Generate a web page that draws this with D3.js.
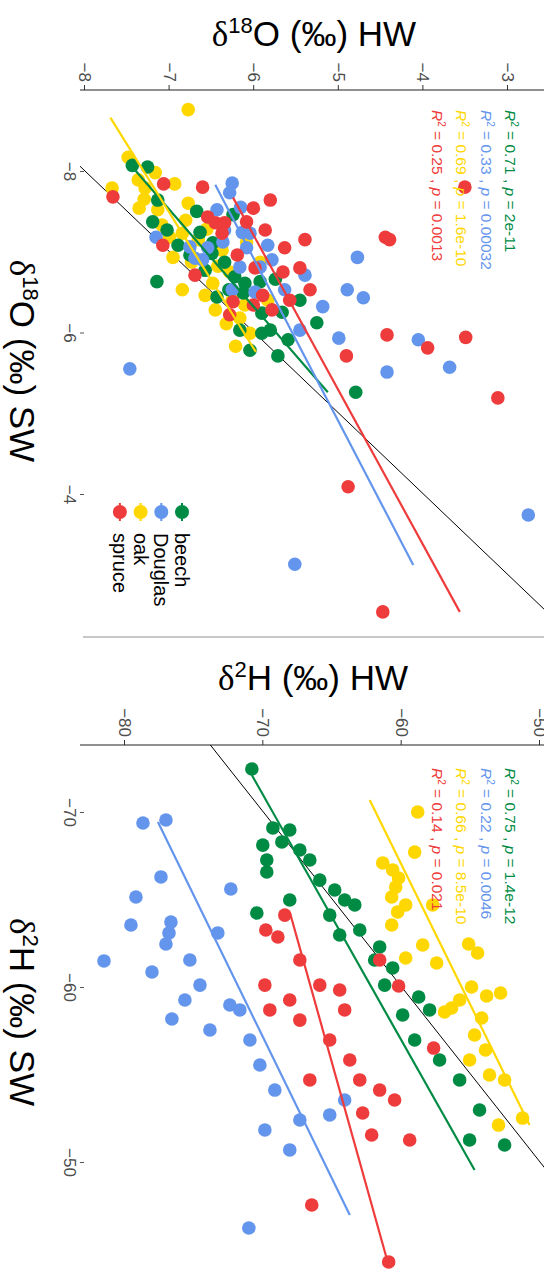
<!DOCTYPE html>
<html><head><meta charset="utf-8">
<script src="https://cdn.jsdelivr.net/npm/d3@7"></script>
<style>body{margin:0;background:#fff}svg{display:block}</style>
</head><body>
<svg id="chart" width="544" height="1279"></svg>
<script>
// Species, colours and legend order
const species = ["beech", "Douglas", "oak", "spruce"];
const speciesColors = ["#008B45", "#6495ED", "#FFD700", "#EE3B3B"];

// δ18O: [source water SW, heartwood HW] per tree (‰)
const o18Beech = [[-8.05,-7.26],[-7.64,-7.14],[-7.37,-7.20],[-7.50,-6.68],[-7.27,-7.03],[-7.08,-6.90],[-6.63,-7.15],[-7.11,-6.49],[-6.98,-6.50],[-6.77,-6.58],[-6.69,-6.23],[-6.61,-6.11],[-6.63,-5.93],[-6.66,-5.75],[-6.44,-6.44],[-6.49,-6.13],[-6.24,-5.91],[-6.25,-5.67],[-8.07,-7.44],[-6.03,-6.17],[-5.99,-5.91],[-5.78,-6.05],[-5.71,-5.72],[-6.12,-5.26],[-5.26,-4.80],[-6.87,-6.35],[-6.96,-6.76],[-6.53,-6.30],[-6.03,-5.81],[-6.40,-5.46],[-5.91,-5.60],[-7.46,-6.25],[-7.24,-6.64]];
const o18Douglas = [[-7.85,-6.26],[-7.73,-6.29],[-7.52,-6.44],[-7.55,-6.16],[-7.18,-7.16],[-7.06,-6.76],[-7.05,-6.55],[-7.12,-6.37],[-7.24,-6.14],[-7.23,-6.05],[-7.05,-6.09],[-6.92,-6.70],[-6.90,-6.61],[-6.81,-6.17],[-6.81,-5.93],[-6.90,-5.79],[-6.53,-6.26],[-6.50,-5.99],[-5.55,-7.47],[-6.93,-4.78],[-6.53,-4.90],[-6.43,-4.71],[-6.32,-5.19],[-5.93,-5.00],[-5.91,-4.06],[-5.51,-4.43],[-5.57,-3.69],[-3.74,-2.76],[-3.13,-5.52],[-6.53,-5.64],[-6.71,-5.40],[-7.08,-5.84],[-6.03,-5.46],[-7.27,-6.35]];
const o18Oak = [[-8.76,-6.78],[-8.17,-7.49],[-7.98,-7.17],[-7.89,-7.37],[-7.79,-7.29],[-7.79,-7.68],[-7.84,-6.94],[-7.60,-6.78],[-7.54,-7.36],[-7.52,-7.14],[-7.39,-6.81],[-7.33,-7.09],[-7.18,-7.00],[-7.23,-6.85],[-7.15,-6.66],[-6.93,-6.96],[-6.53,-6.85],[-6.82,-6.43],[-6.75,-6.29],[-6.61,-6.49],[-7.12,-6.09],[-6.40,-6.26],[-6.18,-6.17],[-6.11,-6.33],[-5.99,-6.05],[-5.83,-6.22],[-7.28,-6.56],[-6.87,-5.93],[-7.65,-7.30],[-6.87,-6.74],[-7.02,-6.38],[-6.46,-6.58],[-6.34,-6.11],[-6.40,-5.84],[-6.28,-6.46]];
const o18Spruce = [[-7.68,-7.67],[-7.84,-7.07],[-7.80,-6.61],[-7.43,-6.55],[-7.36,-6.46],[-7.36,-6.35],[-7.23,-6.38],[-7.08,-7.08],[-6.71,-6.70],[-6.96,-6.20],[-7.54,-6.01],[-7.37,-6.09],[-7.27,-5.87],[-7.05,-5.64],[-6.80,-5.99],[-6.75,-5.66],[-6.46,-5.90],[-6.34,-6.01],[-6.38,-6.25],[-6.22,-6.29],[-6.28,-5.79],[-7.80,-3.51],[-7.18,-4.45],[-7.15,-4.40],[-5.97,-4.43],[-5.81,-3.95],[-5.94,-3.50],[-5.19,-3.12],[-4.09,-4.89],[-2.54,-4.48],[-5.71,-4.91],[-6.80,-5.46],[-6.40,-5.58],[-6.53,-5.34],[-7.15,-5.40],[-7.64,-5.81]];

// δ2H: [SW, HW] per tree (‰)
const h2Beech = [[-72.46,-70.83],[-69.09,-69.31],[-68.11,-70.04],[-67.26,-69.75],[-66.57,-69.75],[-64.23,-70.47],[-68.29,-68.66],[-62.29,-61.59],[-61.09,-60.65],[-59.43,-58.77],[-58.40,-59.93],[-68.97,-68.09],[-67.83,-67.36],[-67.26,-66.64],[-66.11,-65.92],[-65.54,-64.84],[-64.97,-64.12],[-64.69,-63.39],[-63.26,-63.03],[-62.97,-64.48],[-61.54,-61.95],[-60.11,-61.23],[-58.69,-57.98],[-55.83,-57.26],[-54.69,-55.81],[-52.97,-54.37],[-50.97,-52.56],[-51.26,-55.09],[-56.97,-59.06],[-64.11,-65.20],[-64.97,-68.09]];
const h2Douglas = [[-69.37,-78.70],[-69.54,-77.04],[-66.29,-77.40],[-65.14,-79.21],[-63.54,-79.57],[-63.71,-76.68],[-63.09,-76.82],[-62.46,-77.04],[-60.86,-78.05],[-58.17,-76.61],[-61.49,-81.52],[-65.60,-72.35],[-63.09,-73.29],[-61.54,-75.31],[-60.11,-74.58],[-58.97,-72.42],[-56.97,-70.97],[-55.54,-70.25],[-54.11,-69.17],[-52.40,-67.36],[-52.69,-65.20],[-53.54,-64.12],[-46.23,-71.05],[-59.26,-75.67],[-57.54,-73.86],[-58.69,-71.70],[-51.83,-69.89],[-50.69,-68.09]];
const h2Oak = [[-70.00,-58.84],[-67.71,-59.06],[-64.69,-57.76],[-67.09,-61.37],[-66.69,-60.65],[-66.23,-60.22],[-65.71,-60.43],[-65.14,-60.72],[-64.69,-59.71],[-64.29,-60.29],[-63.54,-60.72],[-62.40,-58.48],[-61.66,-59.71],[-61.37,-57.47],[-62.46,-55.16],[-61.94,-54.51],[-60.00,-54.95],[-59.49,-53.86],[-59.66,-52.85],[-58.57,-56.90],[-58.80,-56.39],[-58.23,-54.22],[-52.51,-51.26],[-52.11,-53.00],[-56.40,-53.94],[-57.26,-54.73],[-54.97,-53.65],[-54.69,-52.56],[-59.26,-55.81],[-55.83,-55.09]];
const h2Spruce = [[-63.26,-69.82],[-62.86,-68.95],[-64.11,-68.45],[-61.54,-61.59],[-60.06,-60.22],[-56.51,-57.69],[-52.80,-62.82],[-51.54,-62.17],[-44.29,-60.94],[-47.54,-66.50],[-61.54,-67.36],[-60.11,-65.92],[-59.83,-64.48],[-59.26,-68.09],[-56.97,-65.20],[-55.83,-63.75],[-54.69,-66.64],[-54.69,-63.03],[-53.54,-60.51],[-51.26,-59.42],[-58.11,-67.36],[-58.69,-64.12],[-60.11,-69.89],[-58.69,-69.53],[-54.11,-61.59]];

// Linear fits per species: [SW start, SW end] and [HW start, HW end]
const o18FitSW = [[-8.05,-5.26],[-7.83,-3.12],[-8.66,-5.76],[-7.67,-2.54]];
const o18FitHW = [[-7.44,-5.13],[-6.46,-4.12],[-7.70,-5.98],[-6.25,-3.57]];
const h2FitSW = [[-72.11,-49.54],[-69.43,-46.97],[-70.69,-52.11],[-64.29,-44.29]];
const h2FitHW = [[-70.83,-54.73],[-77.62,-63.75],[-62.31,-50.76],[-68.09,-61.01]];

// Fit statistics
const o18R2 = ["0.71", "0.33", "0.69", "0.25"];
const o18P = ["2e-11", "0.00032", "1.6e-10", "0.0013"];
const h2R2 = ["0.75", "0.22", "0.66", "0.14"];
const h2P = ["1.4e-12", "0.0046", "8.5e-10", "0.021"];

// Axis ticks
const o18HWTicks = [-8, -7, -6, -5, -4, -3];
const o18SWTicks = [-8, -6, -4];
const h2HWTicks = [-80, -70, -60, -50];
const h2SWTicks = [-70, -60, -50];

const svg = d3.select("#chart");
// The figure is laid out landscape (1279 x 544) and turned a quarter turn clockwise.
const root = svg.append("g").attr("transform", "translate(544,0) rotate(90)");

const FONT = "'Liberation Sans', Arial, sans-serif";
const panelBottom = 464;

function titleText(sel, iso, el, tail) {
  sel.append("tspan").style("font-family", "'Liberation Serif', serif").text("δ");
  sel.append("tspan").attr("dy", -13).style("font-size", "22px").text(iso);
  sel.append("tspan").attr("dy", 13).text(`${el} (‰) ${tail}`);
}

function panel(cfg) {
  const g = root.append("g");
  const x = d3.scaleLinear().domain(cfg.xDom).range(cfg.xRange);
  const y = d3.scaleLinear().domain(cfg.yDom).range(cfg.yRange);

  const clipId = "clip" + cfg.id;
  g.append("clipPath").attr("id", clipId).append("rect")
    .attr("x", cfg.left).attr("y", 0)
    .attr("width", cfg.right - cfg.left).attr("height", panelBottom);

  // Left axis (heartwood)
  const ya = g.append("g").attr("transform", `translate(${cfg.left},0)`)
    .call(d3.axisLeft(y).tickValues(cfg.yTicks).tickFormat(d3.format("d")).tickSize(5).tickPadding(3));
  ya.select(".domain").remove();
  ya.selectAll(".tick line").attr("stroke", "#333");
  ya.selectAll(".tick text").attr("fill", "#4d4d4d").style("font", `17px ${FONT}`);
  g.append("line").attr("x1", cfg.left).attr("x2", cfg.left)
    .attr("y1", 0).attr("y2", panelBottom).attr("stroke", "#222").attr("stroke-width", 1.2);

  // Bottom axis (source water), ticks only
  const xa = g.append("g").attr("transform", `translate(0,${panelBottom - 4})`)
    .call(d3.axisBottom(x).tickValues(cfg.xTicks).tickFormat(d3.format("d")).tickSize(4).tickPadding(4));
  xa.select(".domain").remove();
  xa.selectAll(".tick line").attr("stroke", "#555");
  xa.selectAll(".tick text").attr("fill", "#4d4d4d").style("font", `17px ${FONT}`);

  // Axis titles
  const yt = g.append("text")
    .attr("transform", `translate(${cfg.yTitleX},${cfg.yTitleY}) rotate(-90)`)
    .attr("text-anchor", "middle").style("font", `35px ${FONT}`).attr("fill", "#000");
  titleText(yt, cfg.iso, cfg.el, "HW");

  const xt = g.append("text")
    .attr("x", cfg.xTitleX).attr("y", 534)
    .attr("text-anchor", "middle").style("font", `35px ${FONT}`).attr("fill", "#000");
  titleText(xt, cfg.iso, cfg.el, "SW");

  // 1:1 reference line
  const d0 = d3.min([cfg.xDom[0], cfg.yDom[0]]) - 20, d1 = d3.max([cfg.xDom[1], cfg.yDom[1]]) + 20;
  g.append("line").attr("clip-path", `url(#${clipId})`)
    .attr("x1", x(d0)).attr("y1", y(d0)).attr("x2", x(d1)).attr("y2", y(d1))
    .attr("stroke", "#000").attr("stroke-width", 1);

  // Points, drawn oak, beech, Douglas, spruce
  const order = [2, 0, 1, 3];
  order.forEach(i => {
    g.append("g").selectAll("circle").data(cfg.data[i]).join("circle")
      .attr("cx", d => x(d[0])).attr("cy", d => y(d[1])).attr("r", 6.8)
      .attr("fill", speciesColors[i]);
  });

  // Fitted lines
  species.forEach((s, i) => {
    g.append("line")
      .attr("x1", x(cfg.fitSW[i][0])).attr("y1", y(cfg.fitHW[i][0]))
      .attr("x2", x(cfg.fitSW[i][1])).attr("y2", y(cfg.fitHW[i][1]))
      .attr("stroke", speciesColors[i]).attr("stroke-width", 2.2);
  });

  // R² and p annotations
  species.forEach((s, i) => {
    const t = g.append("text").attr("x", cfg.left + cfg.statOffset).attr("y", 39 + i * 24.5)
      .attr("fill", speciesColors[i]).style("font", `15.5px ${FONT}`);
    t.append("tspan").style("font-style", "italic").text("R");
    t.append("tspan").attr("dy", -6).style("font-size", "10px").text("2");
    t.append("tspan").attr("dy", 6).text(` = ${cfg.r2[i]} , `);
    t.append("tspan").style("font-style", "italic").text("p");
    t.append("tspan").text(` = ${cfg.p[i]}`);
  });
  return g;
}

panel({
  id: 1, left: 90, right: 637,
  xDom: [-8, -4], xRange: [171, 494], yDom: [-8, -3], yRange: [459, 36],
  xTicks: o18SWTicks, yTicks: o18HWTicks,
  data: [o18Beech, o18Douglas, o18Oak, o18Spruce],
  fitSW: o18FitSW, fitHW: o18FitHW, r2: o18R2, p: o18P,
  iso: "18", el: "O", yTitleX: 46, yTitleY: 230, xTitleX: 361, statOffset: 20
});

panel({
  id: 2, left: 745, right: 1279,
  xDom: [-70, -50], xRange: [812, 1162], yDom: [-80, -50], yRange: [419, 4],
  xTicks: h2SWTicks, yTicks: h2HWTicks,
  data: [h2Beech, h2Douglas, h2Oak, h2Spruce],
  fitSW: h2FitSW, fitHW: h2FitHW, r2: h2R2, p: h2P,
  iso: "2", el: "H", yTitleX: 690, yTitleY: 231, xTitleX: 1012, statOffset: 23
});

// Legend (first panel)
const leg = root.append("g");
species.forEach((s, i) => {
  const cy = 362 + i * 20.7;
  leg.append("line").attr("x1", 503).attr("x2", 521).attr("y1", cy).attr("y2", cy)
    .attr("stroke", speciesColors[i]).attr("stroke-width", 2);
  leg.append("circle").attr("cx", 512).attr("cy", cy).attr("r", 7).attr("fill", speciesColors[i]);
  leg.append("text").attr("x", 533).attr("y", cy + 7).style("font", `20px ${FONT}`)
    .attr("fill", "#000").text(s);
});

// Divider between panels
root.append("line").attr("x1", 637).attr("x2", 637).attr("y1", 0).attr("y2", 461)
  .attr("stroke", "#b5b5b5").attr("stroke-width", 1.5);
</script>
</body></html>
